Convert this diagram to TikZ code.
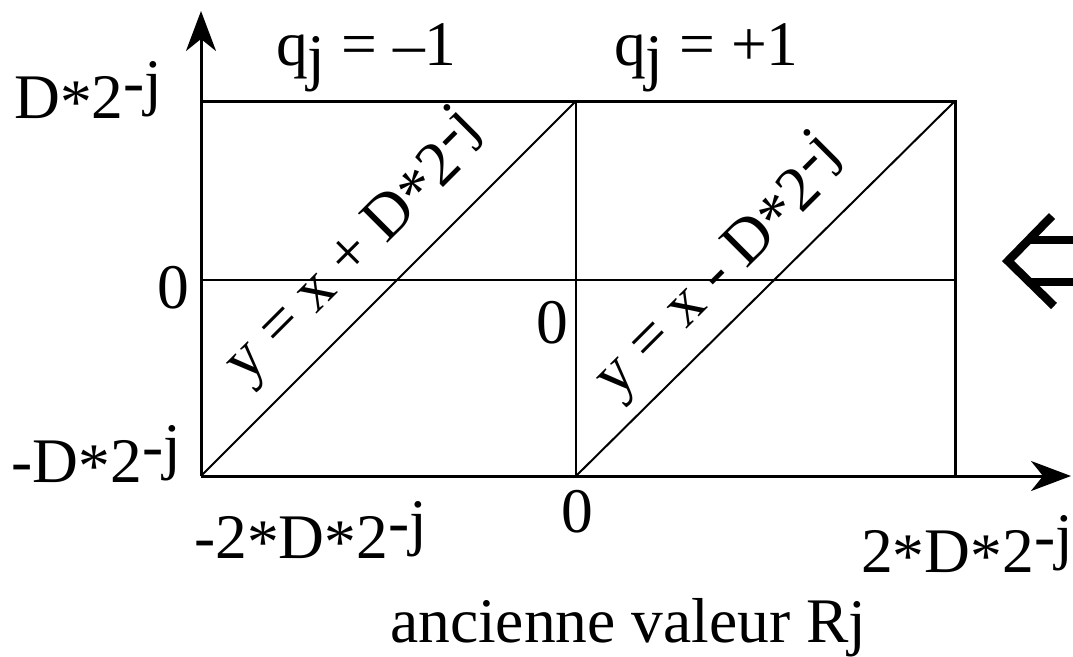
\documentclass[tikz,border=0pt]{standalone}
\usepackage{graphicx}
\usepackage{fontspec}
\setmainfont{Liberation Serif}
\usetikzlibrary{arrows.meta}
\newcommand{\mj}{\raisebox{0.23em}{-j}}
\newcommand{\sj}{\raisebox{-0.22em}{j}}
\newcommand{\st}{\raisebox{-0.08em}{*}}
\begin{document}
\begin{tikzpicture}[x=1pt,y=-1pt,
  lbl/.style={inner sep=0pt, font=\fontsize{63.5}{70}\selectfont},
  heavy/.style={line width=3pt},
  light/.style={line width=2pt},
  axis/.style={line width=3pt, -{Stealth[length=40pt,width=30pt,inset=12pt]}}]
\useasboundingbox (0,0) rectangle (1073,656);
% frame coordinates
\coordinate (O) at (201,476);
\coordinate (Ytip) at (201,11);
\coordinate (Xtip) at (1071,476);
\coordinate (TL) at (201,101);
\coordinate (TM) at (576,101);
\coordinate (TR) at (955,101);
\coordinate (BM) at (576,476);
\coordinate (BR) at (955,476);
\coordinate (ML) at (201,280);
\coordinate (MR) at (955,280);
% axes and grid
\draw[axis] (O) -- (Ytip);
\draw[axis] (O) -- (Xtip);
\draw[heavy] (TL) -- (TR) -- (BR);
\draw[light] (ML) -- (MR);
\draw[light] (TM) -- (BM);
\draw[light] (O) -- (TM);
\draw[light] (BM) -- (TR);
% labels
\node[lbl, anchor=base west] (ltop) at (14,118) {D\st2\mj};
\node[lbl, anchor=base west] (qm) at (276,65) {q\sj{} = –1};
\node[lbl, anchor=base west] (qp) at (614,65) {q\sj{} = +1};
\node[lbl, anchor=base east] (z1) at (189,308) {0};
\node[lbl, anchor=base east] (z2) at (568,343) {0};
\node[lbl, anchor=base east] (lbot) at (181,482) {-D\st2\mj};
\node[lbl, anchor=base] (z3) at (577,532) {0};
\node[lbl, anchor=base west] (xl) at (194,558) {-2\st D\st2\mj};
\node[lbl, anchor=base east] (xr) at (1073,572) {2\st D\st2\mj};
\node[lbl, anchor=base west] (xlab) at (390,642) {ancienne valeur R\raisebox{-0.03em}{j}};
\node[lbl, anchor=base, rotate=45] (e1) at (369,262) {y = x + D\st2\mj};
\node[lbl, anchor=base, rotate=45] (e2) at (734,282) {y = x - D\st2\mj};
% double arrow symbol at right edge
\draw[line width=8.5pt] (1052,216) -- (1008,261) -- (1054,306);
\draw[line width=8pt] (1030,240) -- (1073,240);
\draw[line width=8pt] (1030,282) -- (1073,282);
\end{tikzpicture}
\end{document}
